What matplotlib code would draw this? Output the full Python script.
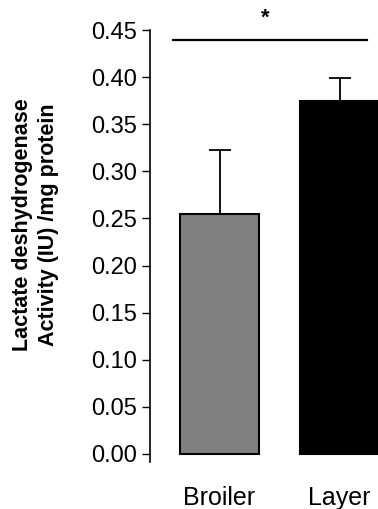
import matplotlib.pyplot as plt

groups = ["Broiler", "Layer"]
means = [0.255, 0.375]
errors = [0.068, 0.024]
colors = ["#808080", "#000000"]
yticks = [0.00, 0.05, 0.10, 0.15, 0.20, 0.25, 0.30, 0.35, 0.40, 0.45]

plt.rcParams['font.family'] = ['Liberation Sans', 'DejaVu Sans']

fig = plt.figure(figsize=(3.78, 5.09), dpi=100)
ax = fig.add_axes([150 / 378, 1 - 462 / 509, 228 / 378, 432 / 509])

x = range(len(groups))
ax.bar(x, means, width=0.66, color=colors, edgecolor="black", linewidth=1.5, zorder=2)
ax.errorbar(x, means, yerr=[[0, 0], errors], fmt="none", ecolor="black",
            elinewidth=1.3, capsize=8, capthick=1.3, zorder=3)

# significance bar
ax.plot([-0.39, 1.23], [0.4395, 0.4395], color="black", lw=1.6, clip_on=False)
ax.text(0.38, 0.462, "*", ha="center", va="center", fontsize=16,
        fontweight="bold", clip_on=False)

ax.set_xlim(-0.579, 1.32)
ax.set_ylim(-0.0085, 0.45)
ax.set_yticks(yticks)
ax.set_yticklabels([f"{v:.2f}" for v in yticks])
ax.set_xticks(list(x))
ax.set_xticklabels(groups, fontsize=18)
ax.tick_params(axis="x", length=0, pad=17)
ax.tick_params(axis="y", labelsize=17, length=6, width=1, pad=3)

for s in ["top", "right", "bottom"]:
    ax.spines[s].set_visible(False)
ax.spines["left"].set_linewidth(1.2)

ax.set_ylabel("Lactate deshydrogenase\nActivity (IU) /mg protein",
              fontsize=15.5, fontweight="bold", linespacing=1.3)
ax.yaxis.set_label_coords(-0.40, 0.55)

fig.savefig("out.png", dpi=100)
